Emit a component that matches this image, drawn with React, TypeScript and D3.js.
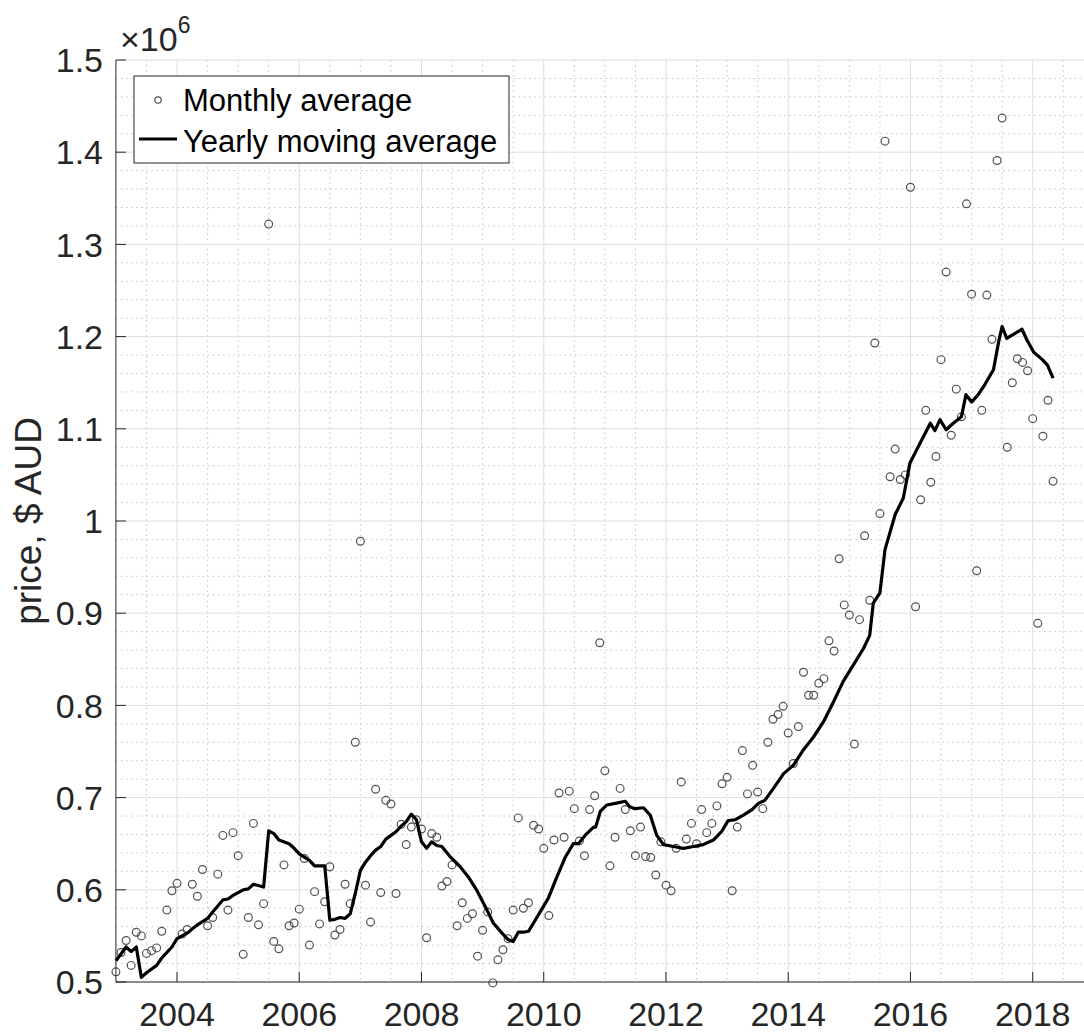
import React from 'react';
import * as d3 from 'd3';

// Monthly average price (millions AUD), one value per month starting Jan 2003
const startYear = 2003;
const monthlyAvg = [
  0.511, 0.532, 0.545, 0.518, 0.554, 0.550, 0.531, 0.534, 0.537, 0.555, 0.578, 0.599,
  0.607, 0.552, 0.557, 0.606, 0.593, 0.622, 0.561, 0.570, 0.617, 0.659, 0.578, 0.662,
  0.637, 0.530, 0.570, 0.672, 0.562, 0.585, 1.322, 0.544, 0.536, 0.627, 0.561, 0.564,
  0.579, 0.634, 0.540, 0.598, 0.563, 0.587, 0.625, 0.551, 0.557, 0.606, 0.585, 0.760,
  0.978, 0.605, 0.565, 0.709, 0.597, 0.697, 0.693, 0.596, 0.671, 0.649, 0.668, 0.676,
  0.666, 0.548, 0.661, 0.657, 0.604, 0.609, 0.627, 0.561, 0.586, 0.569, 0.574, 0.528,
  0.556, 0.576, 0.499, 0.524, 0.535, 0.547, 0.578, 0.678, 0.580, 0.586, 0.670, 0.666,
  0.645, 0.572, 0.654, 0.705, 0.657, 0.707, 0.688, 0.653, 0.637, 0.687, 0.702, 0.868,
  0.729, 0.626, 0.657, 0.710, 0.687, 0.664, 0.637, 0.668, 0.636, 0.635, 0.616, 0.652,
  0.605, 0.599, 0.645, 0.717, 0.655, 0.672, 0.650, 0.687, 0.662, 0.672, 0.691, 0.715,
  0.722, 0.599, 0.668, 0.751, 0.704, 0.735, 0.706, 0.688, 0.760, 0.785, 0.790, 0.799,
  0.770, 0.737, 0.777, 0.836, 0.811, 0.811, 0.824, 0.829, 0.870, 0.859, 0.959, 0.909,
  0.898, 0.758, 0.893, 0.984, 0.914, 1.193, 1.008, 1.412, 1.048, 1.078, 1.045, 1.050,
  1.362, 0.907, 1.023, 1.120, 1.042, 1.070, 1.175, 1.270, 1.093, 1.143, 1.113, 1.344,
  1.246, 0.946, 1.120, 1.245, 1.197, 1.391, 1.437, 1.080, 1.150, 1.176, 1.172, 1.163,
  1.111, 0.889, 1.092, 1.131, 1.043,
];

// Yearly moving average: month index (since Jan 2003) and value (millions AUD)
const maMonth = [
  0, 2, 3, 4, 5, 6, 8, 9, 11, 12, 13, 14, 16, 18, 19, 21, 22, 23, 25, 26, 27, 29,
  30, 31, 32, 34, 35, 36, 38, 39, 41, 42, 43, 44, 45, 46, 47, 48, 49, 50, 51, 52,
  53, 54, 55, 56, 57, 58, 59, 60, 61, 62, 63, 64, 65.6, 67.6, 69.2, 70.8, 72.5, 74.1,
  75.8, 77, 78, 79, 80, 81, 82, 83.3, 84.9, 86.5, 88.2, 89.8, 90.8, 92.1, 93.8, 94.2,
  95.1, 96.4, 98.3, 100, 100.9, 101.9, 103.6, 104.9, 106.2, 107.5, 109.5, 111.4,
  113.4, 115.3, 117.3, 118.9, 120.2, 121.6, 123.2, 124.9, 126.2, 127.4, 129.1, 131.1,
  133, 135, 137, 138.9, 140.9, 142.8, 144.8, 146.8, 148, 148.7, 150, 151, 153, 154.6,
  155.9, 157.2, 159.9, 160.8, 161.8, 163, 164.4, 166, 166.9, 168, 169.3, 170.6, 172.3,
  173.3, 174, 174.9, 177.9, 178.9, 180.2, 181.9, 182.9, 184,
];
const maValue = [
  0.523, 0.538, 0.533, 0.538, 0.505, 0.510, 0.518, 0.526, 0.538, 0.547, 0.550, 0.553,
  0.562, 0.569, 0.576, 0.589, 0.590, 0.594, 0.600, 0.601, 0.606, 0.603,
  0.664, 0.661, 0.654, 0.650, 0.645, 0.639, 0.632, 0.626, 0.626, 0.567, 0.568, 0.570,
  0.569, 0.574, 0.596, 0.621, 0.630, 0.637, 0.643, 0.647,
  0.655, 0.659, 0.663, 0.669, 0.674, 0.682, 0.676, 0.652, 0.645, 0.652, 0.648, 0.647,
  0.636, 0.625, 0.614, 0.600, 0.582, 0.564,
  0.553, 0.546, 0.544, 0.554, 0.554, 0.555, 0.564, 0.576, 0.591, 0.613, 0.635, 0.650,
  0.650, 0.659, 0.668, 0.668,
  0.685, 0.692, 0.694, 0.696, 0.690, 0.688, 0.689, 0.681, 0.659, 0.649, 0.647, 0.645,
  0.647, 0.649, 0.654, 0.663, 0.675, 0.676, 0.681, 0.687, 0.694, 0.697, 0.710, 0.726,
  0.735, 0.752, 0.766, 0.782, 0.804, 0.826, 0.844, 0.862, 0.876, 0.911, 0.922, 0.969,
  1.007, 1.025,
  1.063, 1.077, 1.106, 1.098, 1.110, 1.099, 1.106, 1.113, 1.137, 1.129, 1.137, 1.148,
  1.164,
  1.194, 1.211, 1.198, 1.208, 1.196, 1.183, 1.175, 1.169, 1.155,
];

const yTicks = [0.5, 0.6, 0.7, 0.8, 0.9, 1.0, 1.1, 1.2, 1.3, 1.4, 1.5];
const yTickLabels = ['0.5', '0.6', '0.7', '0.8', '0.9', '1', '1.1', '1.2', '1.3', '1.4', '1.5'];
const xTicks = [2004, 2006, 2008, 2010, 2012, 2014, 2016, 2018];

const FONT = '"Liberation Sans", Arial, Helvetica, sans-serif';

export default function App() {
  const W = 1084;
  const H = 1034;
  const left = 115.9;
  const top = 60;
  const bottom = 982;
  const x = d3.scaleLinear().domain([2003, 2019]).range([left, left + 16 * 61.12]);
  const y = d3.scaleLinear().domain([0.5, 1.5]).range([bottom, top]);

  const xMinor = d3.range(2003.5, 2019.01, 0.5).filter((v) => Math.abs(v % 2) > 0.01);
  const yMinor = d3.range(0.52, 1.5, 0.02).filter(
    (v) => Math.abs(Math.round(v * 10) - v * 10) > 0.01
  );

  const linePts: [number, number][] = maMonth.map((m, i) => [startYear + m / 12, maValue[i]]);
  const lineGen = d3
    .line<[number, number]>()
    .x((d) => x(d[0]))
    .y((d) => y(d[1]));

  const fs = 34;
  const labelFs = 37;
  const legendFs = 31;

  return (
    <svg
      width={W}
      height={H}
      style={{ position: 'absolute', left: 0, top: 0, background: '#fff' }}
      fontFamily={FONT}
    >
      <rect x={0} y={0} width={W} height={H} fill="#fff" />
      {/* minor grid */}
      <g stroke="#c4c4c4" strokeWidth={1} strokeDasharray="1.5,3.6">
        {xMinor.map((v) => (
          <line key={'xm' + v} x1={x(v)} x2={x(v)} y1={top} y2={bottom} />
        ))}
        {yMinor.map((v) => (
          <line key={'ym' + v} x1={left} x2={W} y1={y(v)} y2={y(v)} />
        ))}
      </g>
      {/* major grid */}
      <g stroke="#dedede" strokeWidth={1}>
        {xTicks.map((v) => (
          <line key={'xg' + v} x1={x(v)} x2={x(v)} y1={top} y2={bottom} />
        ))}
        {yTicks.map((v) => (
          <line key={'yg' + v} x1={left} x2={W} y1={y(v)} y2={y(v)} />
        ))}
      </g>
      {/* monthly average markers */}
      <g fill="none" stroke="#505050" strokeWidth={1.2}>
        {monthlyAvg.map((v, i) => (
          <circle key={'c' + i} cx={x(startYear + i / 12)} cy={y(v)} r={3.9} />
        ))}
      </g>
      {/* moving average line */}
      <path
        d={lineGen(linePts) || ''}
        fill="none"
        stroke="#000"
        strokeWidth={3.2}
        strokeLinejoin="round"
      />
      {/* axes */}
      <g stroke="#262626" strokeWidth={1}>
        <line x1={left} x2={left} y1={top} y2={bottom} />
        <line x1={left} x2={W} y1={bottom} y2={bottom} />
        {yTicks.map((v) => (
          <line key={'yt' + v} x1={left} x2={left + 10} y1={y(v)} y2={y(v)} />
        ))}
        {xTicks.map((v) => (
          <line key={'xt' + v} x1={x(v)} x2={x(v)} y1={bottom} y2={bottom - 10} />
        ))}
      </g>
      <g fill="#262626" fontSize={fs}>
        {yTicks.map((v, i) => (
          <text key={'yl' + v} x={103} y={y(v) + fs * 0.358} textAnchor="end">
            {yTickLabels[i]}
          </text>
        ))}
        {xTicks.map((v) => (
          <text key={'xl' + v} x={x(v)} y={1026} textAnchor="middle">
            {v}
          </text>
        ))}
        <text x={120} y={51}>
          ×10
          <tspan fontSize={23} dy={-18}>
            6
          </tspan>
        </text>
        <text
          transform={`translate(41, ${(top + bottom) / 2}) rotate(-90)`}
          textAnchor="middle"
          fontSize={labelFs}
        >
          price, $ AUD
        </text>
      </g>
      {/* legend */}
      <g>
        <rect x={134} y={76} width={375} height={87} fill="#fff" stroke="#262626" strokeWidth={1} />
        <circle cx={158} cy={100} r={3.2} fill="none" stroke="#505050" strokeWidth={1.2} />
        <line x1={139} x2={177} y1={139} y2={139} stroke="#000" strokeWidth={3.2} />
        <text x={183} y={111} fontSize={legendFs} fill="#000">
          Monthly average
        </text>
        <text x={183} y={152} fontSize={legendFs} fill="#000">
          Yearly moving average
        </text>
      </g>
    </svg>
  );
}
